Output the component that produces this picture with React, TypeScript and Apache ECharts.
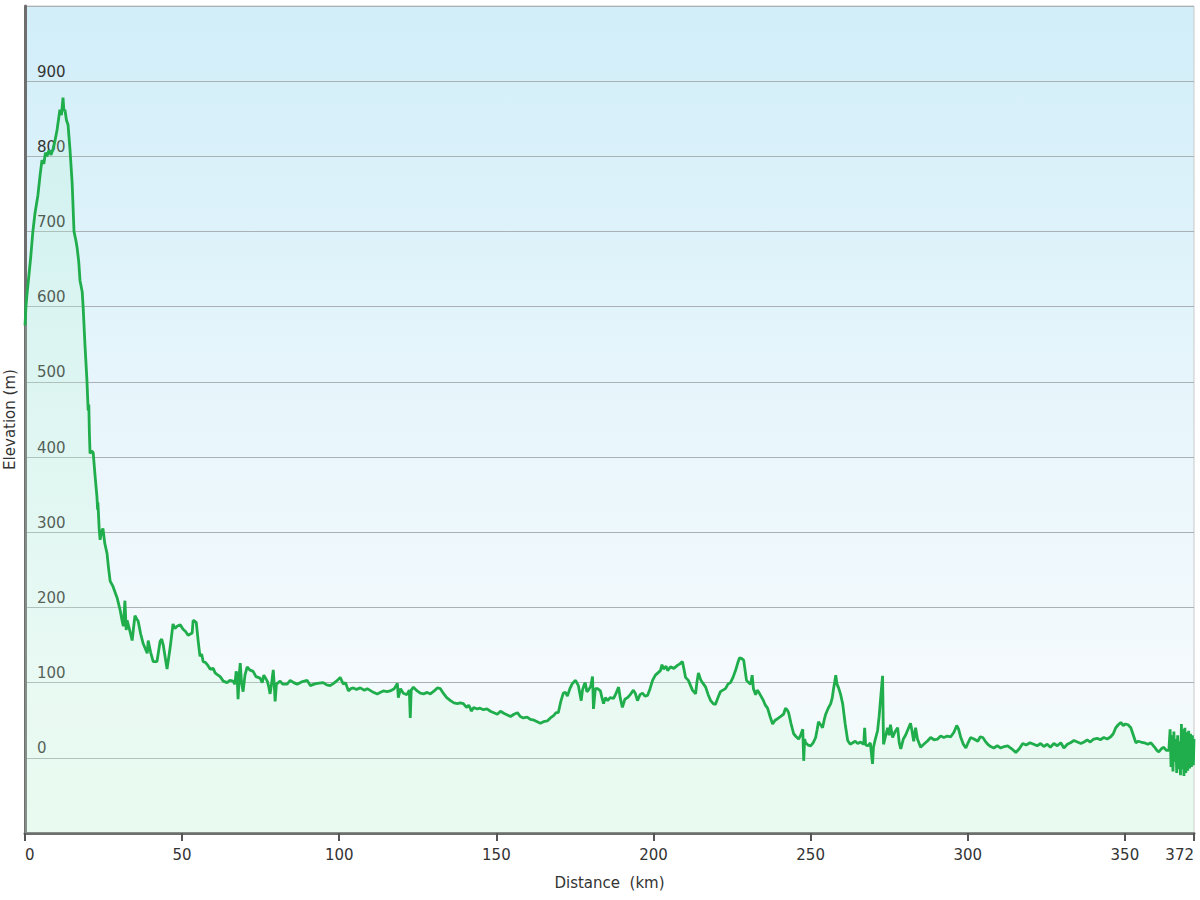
import React, { useEffect, useRef } from "react";
import * as echarts from "echarts";

const distanceKm: number[] = [
  0, 0.3, 0.6, 1.2, 1.8, 2.5, 3.2, 4.1, 4.8, 5.4, 6.0, 6.5, 7.0, 7.6, 8.3, 8.9, 9.5, 10.2, 10.7, 11.1,
  11.6, 12.1, 12.4, 12.7, 13.2, 13.7, 14.3, 15.0, 15.6, 16.2, 16.6, 17.1, 17.5, 18.2, 18.5, 19.1, 19.7, 20.1, 20.3, 20.5,
  20.7, 21.2, 21.7, 22.3, 22.9, 23.1, 23.2, 23.6, 23.9, 24.3, 24.8, 25.4, 26.1, 26.6, 27.1, 28.0, 29.3, 30.3, 31.0, 31.3,
  31.8, 32.2, 32.5, 33.3, 34.1, 34.6, 35.0, 35.5, 36.0, 36.8, 37.6, 38.3, 38.9, 39.2, 40.0, 40.8, 42.0, 43.0, 43.5, 44.0,
  45.2, 46.2, 47.1, 47.7, 48.4, 49.4, 50.3, 51.1, 51.9, 53.2, 53.5, 54.5, 55.1, 55.4, 55.7, 56.2, 56.7, 57.4, 58.0, 58.9,
  59.9, 60.5, 61.1, 62.1, 63.1, 64.3, 65.2, 66.2, 66.8, 67.2, 67.5, 67.8, 68.2, 68.5, 68.9, 69.4, 70.0, 70.7, 71.5, 72.6,
  73.5, 74.8, 75.5, 76.0, 77.1, 77.6, 78.0, 78.5, 79.0, 79.3, 79.6, 80.0, 81.2, 82.0, 83.4, 84.4, 85.5, 86.6, 88.0, 89.8,
  90.8, 92.0, 93.0, 94.9, 96.0, 97.1, 98.2, 99.4, 100.3, 101.3, 102.0, 102.9, 103.7, 104.5, 105.5, 106.7, 108.0, 108.9, 110.5, 112.1,
  113.0, 114.0, 115.2, 116.2, 117.5, 118.5, 118.8, 119.5, 120.4, 121.5, 122.3, 122.6, 122.9, 123.6, 124.8, 125.8, 126.8, 128.0, 129.0, 130.2,
  131.2, 132.2, 133.1, 134.2, 135.4, 136.5, 137.6, 138.5, 139.5, 140.5, 141.2, 141.7, 142.0, 142.8, 143.9, 144.8, 145.9, 147.0, 148.1, 149.2,
  150.3, 151.3, 152.5, 153.5, 154.5, 155.6, 156.7, 157.6, 158.6, 159.8, 160.8, 162.0, 163.0, 164.0, 165.0, 166.2, 167.2, 168.2, 169.0, 169.7,
  170.5, 171.3, 172.0, 172.6, 173.4, 174.2, 175.2, 176.1, 176.6, 177.0, 177.4, 178.0, 178.3, 178.8, 179.3, 180.0, 180.6, 180.9, 181.5, 182.2,
  183.1, 183.6, 184.1, 184.7, 185.4, 186.2, 187.3, 188.0, 188.9, 189.4, 190.1, 190.9, 191.7, 192.6, 193.6, 194.2, 194.9, 195.7, 196.5, 197.3,
  198.1, 198.9, 199.7, 200.6, 201.4, 202.2, 202.7, 203.2, 204.0, 204.5, 205.4, 206.5, 207.6, 208.4, 209.2, 209.6, 210.2, 211.1, 211.8, 212.4,
  213.4, 213.8, 214.3, 215.0, 215.6, 216.6, 217.4, 218.2, 219.0, 219.7, 220.5, 221.3, 222.1, 222.9, 223.7, 224.5, 225.3, 226.1, 226.8, 227.4,
  228.1, 228.7, 229.2, 229.6, 230.3, 230.9, 231.4, 231.8, 232.5, 233.0, 233.4, 234.2, 235.0, 235.6, 236.3, 237.1, 237.9, 238.7, 239.5, 240.5,
  241.4, 242.0, 242.5, 243.0, 243.8, 244.6, 245.4, 246.2, 246.8, 247.5, 247.8, 248.1, 248.4, 249.2, 250.0, 250.8, 251.6, 252.1, 252.5, 253.2,
  253.8, 254.3, 254.8, 255.6, 256.4, 256.9, 257.3, 257.7, 258.0, 258.4, 258.9, 259.5, 260.2, 261.0, 261.8, 262.6, 263.4, 264.2, 265.0, 265.9,
  266.9, 267.2, 267.5, 268.2, 269.0, 269.7, 270.0, 270.6, 271.3, 271.8, 272.4, 272.9, 273.2, 273.8, 274.5, 275.0, 275.4, 276.1, 276.9, 277.7,
  278.2, 278.7, 279.5, 280.2, 281.0, 281.8, 282.3, 282.8, 283.4, 284.0, 285.0, 286.0, 287.1, 288.2, 289.3, 290.4, 291.4, 292.4, 293.5, 294.6,
  295.6, 296.5, 297.1, 297.8, 298.6, 299.4, 300.1, 300.9, 302.0, 303.2, 304.0, 304.8, 305.6, 306.4, 307.3, 308.3, 309.4, 310.5, 311.6, 312.7,
  314.0, 315.3, 316.4, 317.5, 318.6, 319.8, 321.0, 322.1, 323.2, 324.2, 325.3, 326.3, 327.4, 328.5, 329.6, 330.6, 331.7, 332.7, 333.8, 334.9,
  336.0, 337.0, 338.0, 339.0, 340.1, 341.2, 342.2, 343.3, 344.4, 345.5, 346.3, 347.1, 347.9, 348.7, 349.5, 350.2, 351.0, 351.9, 352.7, 353.5,
  354.3, 355.1, 356.2, 357.3, 358.3, 359.5, 360.2, 360.8, 361.6, 362.4, 363.2, 364.0, 364.4, 364.7, 365.0, 365.3, 365.6, 365.9, 366.2, 366.5,
  366.8, 367.1, 367.4, 367.7, 368.0, 368.2, 368.5, 368.8, 369.1, 369.4, 369.7, 370.0, 370.3, 370.6, 370.9, 371.2, 371.5, 371.8, 372.0,
];

const elevationM: number[] = [
  575, 600, 615, 640, 665, 700, 725, 748, 775, 795, 790, 805, 800, 808, 802, 810, 820, 835, 850, 862,
  855, 878, 860, 862, 848, 842, 810, 765, 700, 688, 678, 660, 635, 620, 600, 548, 503, 462, 470, 430,
  405, 408, 406, 375, 347, 330, 340, 305, 290, 300, 305, 285, 272, 252, 235, 228, 213, 196, 180, 175,
  209, 170, 183, 170, 156, 175, 189, 185, 182, 165, 152, 145, 139, 156, 140, 128, 128, 155, 158, 150,
  118, 147, 178, 172, 175, 177, 171, 168, 163, 166, 183, 180, 156, 145, 135, 138, 128, 127, 124, 118,
  119, 113, 111, 108, 102, 100, 103, 102, 98, 115, 110, 78, 112, 126, 100, 88, 110, 121, 117, 115,
  108, 106, 100, 110, 102, 94, 85, 100, 117, 98, 75, 98, 102, 98, 98, 103, 100, 98, 101, 103,
  96, 98, 99, 100, 97, 96, 99, 103, 107, 98, 100, 89, 92, 93, 91, 93, 90, 92, 88, 85,
  87, 89, 88, 89, 92, 99, 80, 92, 86, 84, 90, 53, 90, 94, 89, 86, 85, 87, 85, 89,
  93, 92, 86, 80, 76, 73, 72, 73, 72, 67, 70, 66, 62, 67, 65, 66, 64, 65, 62, 60,
  58, 62, 59, 57, 55, 58, 60, 55, 53, 54, 51, 50, 48, 46, 48, 49, 53, 56, 60, 60,
  75, 86, 87, 82, 92, 99, 103, 96, 85, 76, 90, 98, 100, 88, 90, 95, 108, 65, 92, 92,
  89, 80, 72, 80, 76, 80, 79, 85, 94, 80, 67, 78, 80, 84, 90, 86, 76, 84, 86, 82,
  83, 92, 103, 110, 113, 116, 124, 118, 122, 116, 121, 119, 123, 125, 128, 120, 107, 103, 96, 90,
  85, 100, 113, 104, 100, 94, 84, 76, 72, 71, 80, 88, 90, 92, 98, 100, 107, 116, 126, 133,
  132, 130, 115, 103, 100, 98, 110, 92, 84, 90, 88, 82, 76, 70, 66, 55, 45, 50, 52, 55,
  58, 66, 64, 60, 45, 32, 28, 25, 30, 38, -4, 25, 20, 17, 16, 20, 27, 38, 48, 44,
  40, 50, 58, 66, 72, 80, 92, 102, 110, 98, 93, 85, 72, 45, 23, 18, 20, 22, 19, 21,
  18, 40, 17, 16, 20, -8, 14, 25, 36, 55, 85, 109, 18, 28, 40, 30, 44, 27, 35, 40,
  20, 12, 25, 30, 38, 46, 35, 22, 40, 25, 14, 18, 22, 27, 24, 25, 29, 27, 29, 28,
  34, 43, 38, 27, 18, 13, 20, 27, 25, 22, 28, 27, 22, 18, 15, 13, 16, 13, 15, 16,
  12, 7, 12, 19, 17, 20, 18, 16, 19, 15, 18, 14, 19, 16, 20, 13, 18, 20, 23, 21,
  19, 21, 24, 21, 25, 26, 24, 27, 25, 28, 32, 40, 44, 47, 43, 45, 44, 40, 30, 20,
  22, 21, 20, 18, 20, 14, 10, 8, 12, 14, 10, 10, 38, -12, 30, -18, 35, -5, 25, -20,
  30, -15, 22, -23, 45, -15, 38, -24, 40, -20, 34, -17, 36, -14, 32, -12, 30, -10, 25,
];

const xMin = 0;
const xMax = 372;
const xInterval = 50;
const yMin = -100;
const yMax = 1000;
const yInterval = 100;
const xTitle = "Distance  (km)";
const yTitle = "Elevation (m)";

const FONT = "DejaVu Sans, Verdana, sans-serif";

export default function App() {
  const ref = useRef<HTMLDivElement>(null);

  useEffect(() => {
    if (!ref.current) return;
    const chart = echarts.init(ref.current, null, { renderer: "svg" });
    const points = distanceKm.map((d, i) => [d, elevationM[i]]);
    chart.setOption({
      animation: false,
      backgroundColor: "#ffffff",
      grid: {
        left: 25,
        right: 6,
        top: 6,
        bottom: 67,
        outerBoundsMode: "none",
        containLabel: false,
        show: true,
        borderColor: "#c9c9c9",
        borderWidth: 1,
        backgroundColor: new echarts.graphic.LinearGradient(0, 0, 0, 1, [
          { offset: 0, color: "#d1eef9" },
          { offset: 0.45, color: "#e6f5fb" },
          { offset: 0.8, color: "#f4fafd" },
          { offset: 1, color: "#f3fbf7" },
        ]),
      },
      xAxis: {
        type: "value",
        min: xMin,
        max: xMax,
        interval: xInterval,
        name: xTitle,
        nameLocation: "middle",
        nameGap: 42,
        nameTextStyle: { fontFamily: FONT, fontSize: 15, color: "#333" },
        axisLine: { show: true, onZero: false, lineStyle: { color: "#6e6e6e", width: 3 } },
        axisTick: { show: true, length: 8, lineStyle: { color: "#555", width: 2 } },
        axisLabel: {
          fontFamily: FONT,
          fontSize: 15,
          color: "#333",
          margin: 14,
          alignMinLabel: "left",
          alignMaxLabel: "right",
        },
        splitLine: { show: false },
      },
      yAxis: {
        type: "value",
        min: yMin,
        max: yMax,
        interval: yInterval,
        name: yTitle,
        nameLocation: "middle",
        nameRotate: 90,
        nameGap: 5,
        nameTextStyle: { fontFamily: FONT, fontSize: 15, color: "#333" },
        axisLine: { show: true, onZero: false, lineStyle: { color: "#6e6e6e", width: 3 } },
        axisTick: { show: false },
        axisLabel: {
          inside: true,
          margin: 12,
          fontFamily: FONT,
          fontSize: 15,
          color: "#333",
          verticalAlign: "bottom",
          padding: [0, 0, 2, 0],
          formatter: (v: number) => (v < 0 || v > 900 ? "" : String(v)),
        },
        splitLine: { show: true, lineStyle: { color: "#aab1b4", width: 1 } },
      },
      series: [
        {
          type: "line",
          data: points,
          showSymbol: false,
          symbol: "none",
          lineStyle: { color: "#20ad4b", width: 2.8 },
          itemStyle: { color: "#20ad4b" },
          areaStyle: {
            origin: "start",
            color: new echarts.graphic.LinearGradient(0, 0, 0, 1, [
              { offset: 0, color: "rgba(185,245,205,0.30)" },
              { offset: 1, color: "rgba(200,248,215,0.35)" },
            ]),
          },
        },
      ],
    });
    return () => chart.dispose();
  }, []);

  return (
    <div
      ref={ref}
      style={{ position: "fixed", left: 0, top: 0, width: 1200, height: 900 }}
    />
  );
}
